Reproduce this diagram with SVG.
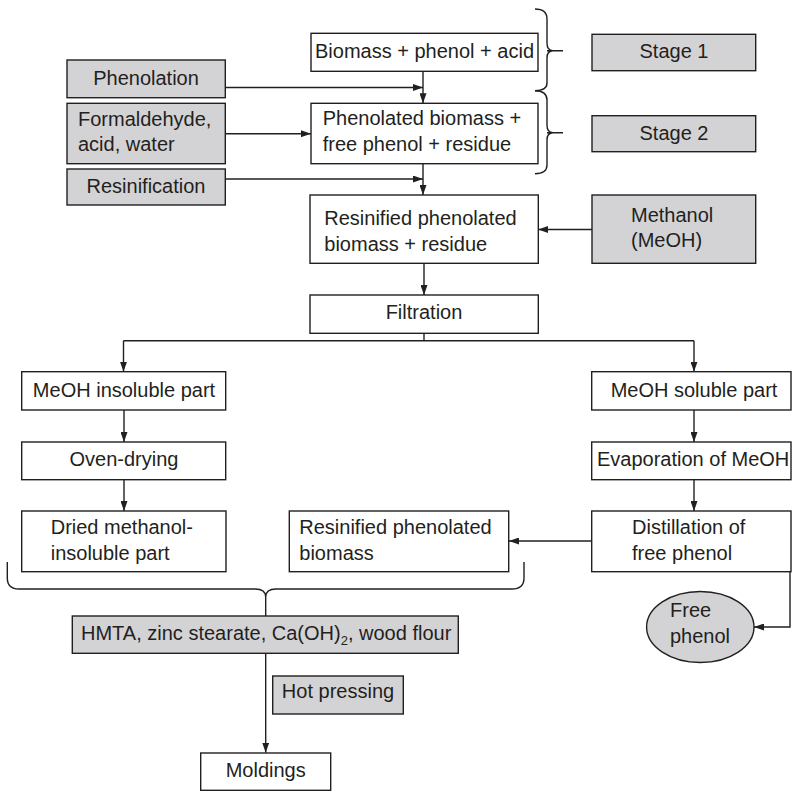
<svg xmlns="http://www.w3.org/2000/svg" width="792" height="791" viewBox="0 0 792 791">
<defs>
<marker id="ah" markerUnits="userSpaceOnUse" markerWidth="10" markerHeight="7" refX="10" refY="3.5" orient="auto">
<path d="M0,0 L10,3.5 L0,7 z" fill="#231f20"/>
</marker>
<style>
.b{fill:#fff;stroke:#231f20;stroke-width:1.4}
.g{fill:#d3d3d5;stroke:#231f20;stroke-width:1.4}
.t{font-family:"Liberation Sans",Arial,sans-serif;font-size:20px;fill:#231f20}
.m{text-anchor:middle}
.c{fill:none;stroke:#231f20;stroke-width:1.4}
.a{marker-end:url(#ah)}
</style>
</defs>
<rect width="792" height="791" fill="#fff"/>

<g id="connectors">
<path class="c a" d="M225,87.5 H423"/>
<path class="c a" d="M423,71 V103.3"/>
<path class="c a" d="M225,133.7 H311"/>
<path class="c a" d="M225,179 H423"/>
<path class="c a" d="M423,163.7 V195"/>
<path class="c a" d="M592,229.5 H538.3"/>
<path class="c a" d="M424,263.3 V295"/>
<path class="c" d="M424,333.3 V340.7 M123.5,340.7 H694"/>
<path class="c a" d="M123.5,340.7 V371.7"/>
<path class="c a" d="M694,340.7 V371.7"/>
<path class="c a" d="M124,410 V442"/>
<path class="c a" d="M124,479.7 V511"/>
<path class="c a" d="M694,410 V442"/>
<path class="c a" d="M694,479.7 V511"/>
<path class="c a" d="M592,541 H509"/>
<path class="c a" d="M790,571.7 V627 H754"/>
<path class="c" d="M265.7,597 V616"/>
<path class="c a" d="M265.7,653.3 V752.7"/>
</g>

<g id="braces">
<path class="c" d="M535,9 Q547,9 547,19 V43 Q547,50.7 553,50.7 Q547,50.7 547,58 V83 Q547,90.7 535,90.7 M547,50.7 H563"/>
<path class="c" d="M535,90.7 Q547,90.7 547,100 V125 Q547,132.7 553,132.7 Q547,132.7 547,140 V165 Q547,173.7 535,173.7 M547,132.7 H563"/>
<path class="c" d="M7.3,562 V578 Q7.3,589 19,589 H255 Q265.7,589 265.7,597 Q265.7,589 276,589 H512 Q524,589 524,578 V562"/>
</g>

<g id="n-biomass"><rect class="b" x="311" y="33.3" width="227" height="38"/><text class="t m" x="424.5" y="57.5">Biomass + phenol + acid</text></g>
<g id="n-stage1"><rect class="g" x="592" y="34.3" width="163.7" height="36.4"/><text class="t m" x="674" y="57.5">Stage 1</text></g>
<g id="n-phenolation"><rect class="g" x="67" y="60" width="158.3" height="37.7"/><text class="t m" x="146" y="84.5">Phenolation</text></g>
<g id="n-formaldehyde"><rect class="g" x="67" y="103.3" width="158.3" height="60.4"/><text class="t" x="78" y="126">Formaldehyde,</text><text class="t" x="78" y="150.7">acid, water</text></g>
<g id="n-phenolated"><rect class="b" x="311" y="103.3" width="227" height="60.4"/><text class="t" x="322.7" y="124.5">Phenolated biomass +</text><text class="t" x="322.7" y="150.7">free phenol + residue</text></g>
<g id="n-stage2"><rect class="g" x="592" y="115.7" width="163.7" height="36"/><text class="t m" x="674" y="140">Stage 2</text></g>
<g id="n-resinification"><rect class="g" x="67" y="169" width="158.3" height="36"/><text class="t m" x="146" y="192.8">Resinification</text></g>
<g id="n-resinified"><rect class="b" x="310" y="195" width="228.3" height="68.3"/><text class="t" x="324.3" y="225">Resinified phenolated</text><text class="t" x="324.3" y="250.7">biomass + residue</text></g>
<g id="n-methanol"><rect class="g" x="592" y="195" width="163.7" height="68.3"/><text class="t" x="631" y="221.7">Methanol</text><text class="t" x="631" y="246.7">(MeOH)</text></g>
<g id="n-filtration"><rect class="b" x="310" y="295" width="228.3" height="38.3"/><text class="t m" x="424" y="319.3">Filtration</text></g>
<g id="n-insoluble"><rect class="b" x="21.7" y="371.7" width="204" height="38.3"/><text class="t m" x="124" y="397.3">MeOH insoluble part</text></g>
<g id="n-soluble"><rect class="b" x="591.7" y="371.7" width="199.3" height="38.3"/><text class="t m" x="694" y="397.3">MeOH soluble part</text></g>
<g id="n-oven"><rect class="b" x="21.7" y="442" width="204" height="37.7"/><text class="t m" x="124" y="466">Oven-drying</text></g>
<g id="n-evap"><rect class="b" x="591.7" y="442" width="199.3" height="37.7"/><text class="t" x="597" y="466">Evaporation of MeOH</text></g>
<g id="n-dried"><rect class="b" x="21.7" y="511" width="204.3" height="60.7"/><text class="t" x="50.7" y="534">Dried methanol-</text><text class="t" x="50.7" y="560">insoluble part</text></g>
<g id="n-rpb"><rect class="b" x="289.3" y="511" width="219.4" height="60.7"/><text class="t" x="299.3" y="534">Resinified phenolated</text><text class="t" x="299.3" y="560">biomass</text></g>
<g id="n-distill"><rect class="b" x="591.7" y="511" width="199.3" height="60.7"/><text class="t" x="632" y="534">Distillation of</text><text class="t" x="632" y="560">free phenol</text></g>
<g id="n-freephenol"><ellipse class="g" cx="700.3" cy="627" rx="53.7" ry="35.5"/><text class="t" x="670" y="617">Free</text><text class="t" x="670" y="643">phenol</text></g>
<g id="n-hmta"><rect class="g" x="72.3" y="616" width="386" height="37.3"/><text class="t" x="81" y="640">HMTA, zinc stearate, Ca(OH)<tspan font-size="13" dy="5">2</tspan><tspan dy="-5">, wood flour</tspan></text></g>
<g id="n-hot"><rect class="g" x="272.7" y="676" width="130.6" height="38"/><text class="t m" x="338" y="698.3">Hot pressing</text></g>
<g id="n-moldings"><rect class="b" x="200.7" y="753" width="130" height="37.3"/><text class="t m" x="265.7" y="776.7">Moldings</text></g>
</svg>
